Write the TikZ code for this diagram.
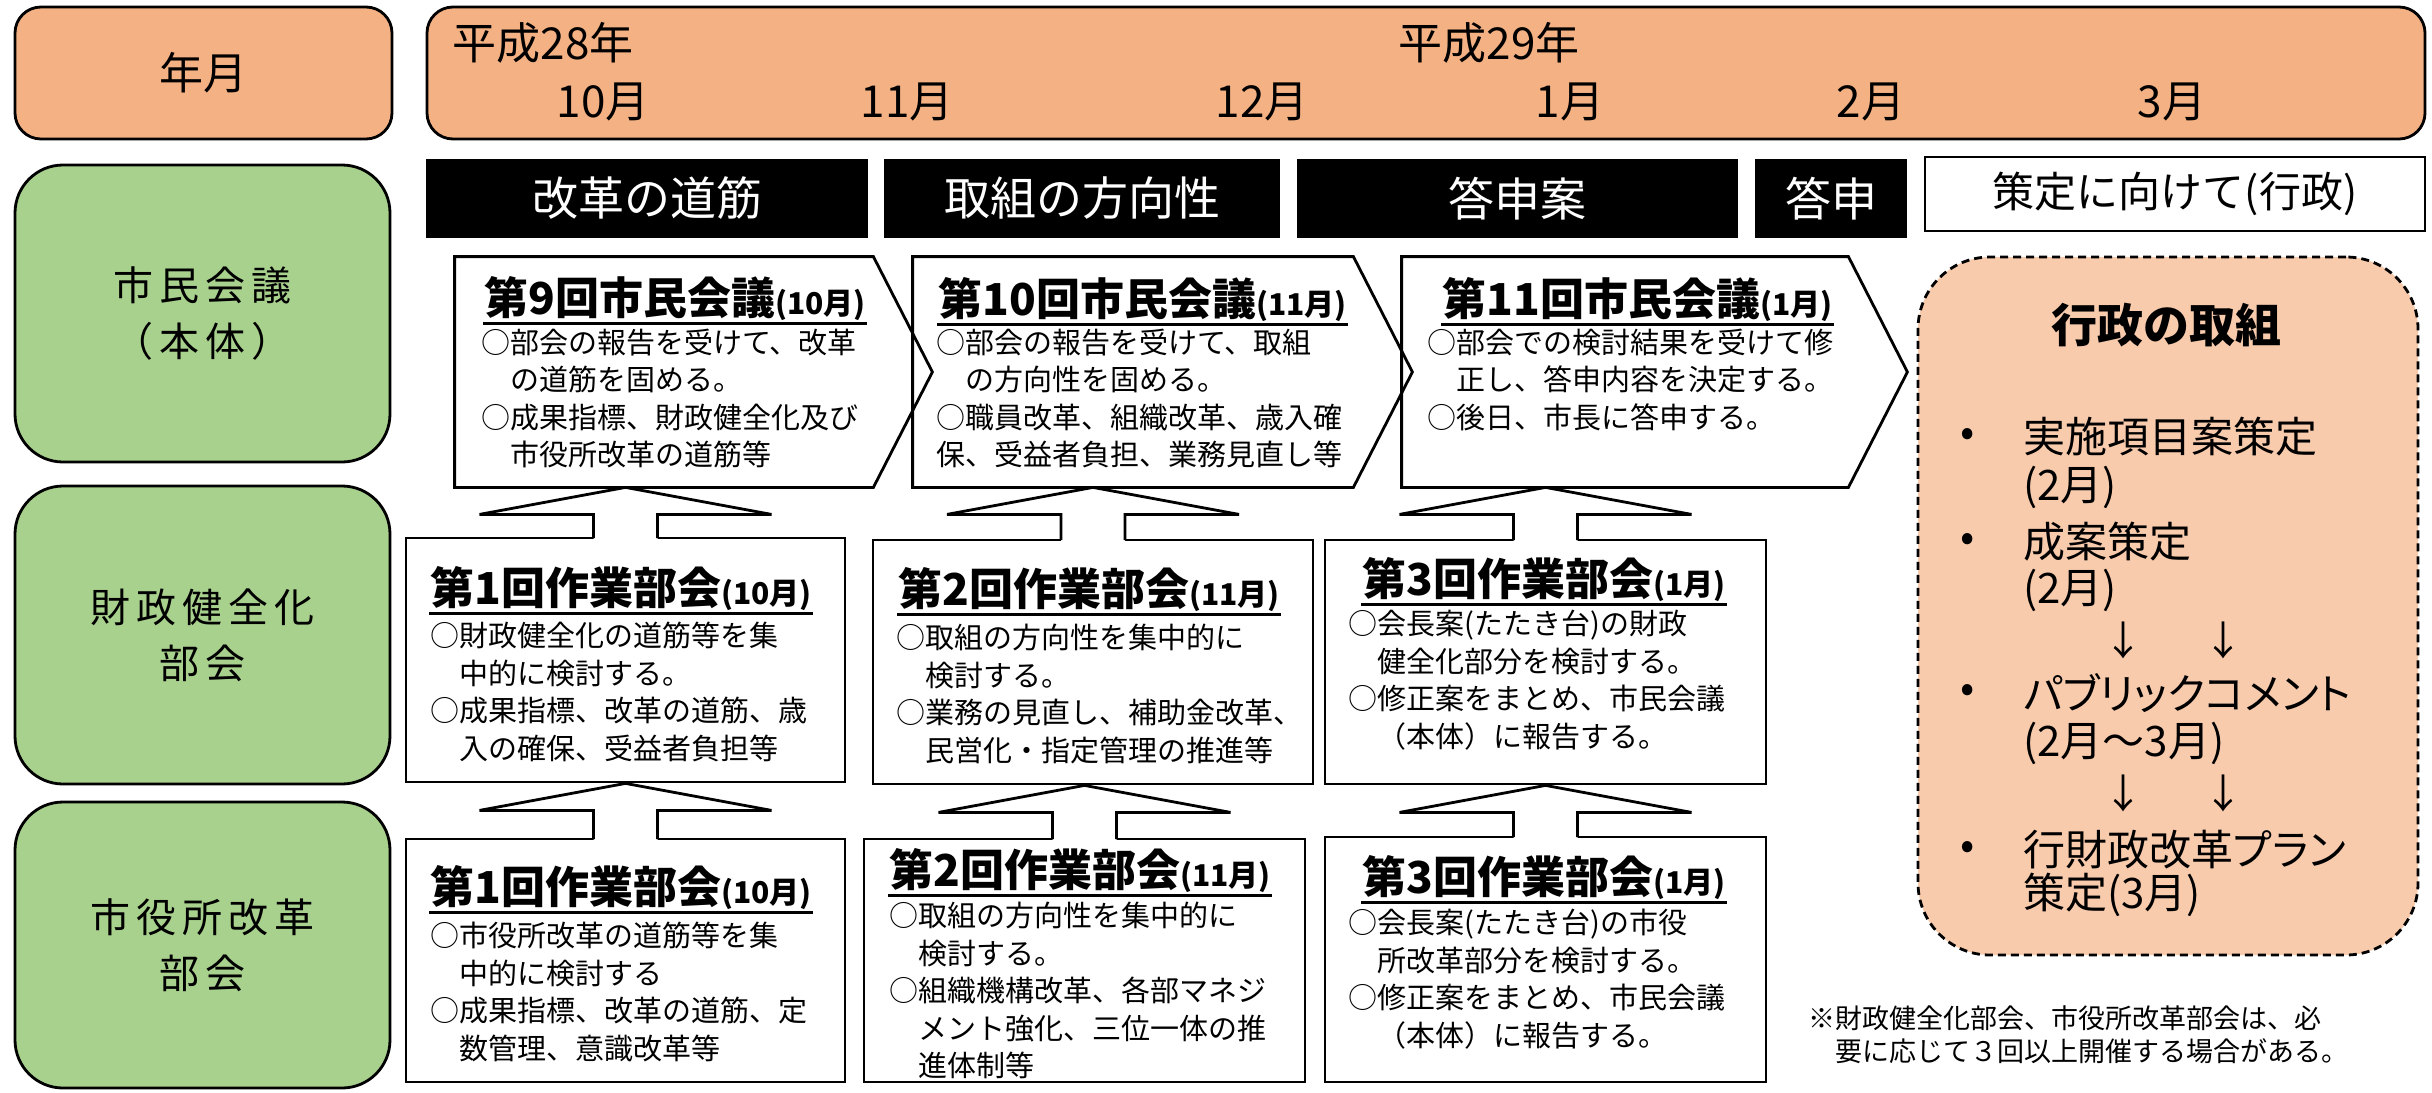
\documentclass[tikz,border=0pt]{standalone}
\usepackage{fontspec}
\setmainfont{Noto Sans CJK JP}
\newfontfamily\gfont{Noto Sans CJK JP}[LetterSpace=15]
\newfontfamily\pfont{Noto Sans CJK JP}[RawFeature=+palt]
\usetikzlibrary{calc}

\definecolor{peach}{HTML}{F4B183}
\definecolor{lpeach}{HTML}{F8CBAD}
\definecolor{leaf}{HTML}{A9D18E}

\newcommand\sml{\fontsize{30}{36}\selectfont}

% wide up-arrow from the top of box #1 to the bottom of box #2
\newcommand\blockarrow[2]{%
  \fill[white] ($(#1.north)+(-32,3)$) |- ($(#1.north |- #2.south)+(-146,27)$)
    -- (#1.north |- #2.south) -- ($(#1.north |- #2.south)+(146,27)$) -| ($(#1.north)+(32,3)$) -- cycle;
  \draw ($(#1.north)+(-32,1.4)$) |- ($(#1.north |- #2.south)+(-146,27)$)
    -- (#1.north |- #2.south) -- ($(#1.north |- #2.south)+(146,27)$) -| ($(#1.north)+(32,1.4)$);
}

\begin{document}
\begin{tikzpicture}[x=1pt,y=-1pt,line width=2.8pt,
  lbl/.style={draw,fill=leaf,rounded corners=48pt,inner sep=0pt,minimum width=375pt,
    align=center,font=\gfont\fontsize{40}{56}\selectfont},
  bar/.style={fill=black,text=white,inner sep=0pt,minimum height=79pt,
    font=\fontsize{46}{50}\selectfont},
  box/.style={draw,inner sep=0pt},
  ttl/.style={anchor=west,inner sep=0pt,font=\fontsize{44}{48}\selectfont\bfseries},
  body/.style={anchor=north west,align=left,inner sep=0pt,font=\fontsize{29}{37.5}\selectfont},
  item/.style={anchor=west,inner sep=0pt,font=\pfont\fontsize{42}{50}\selectfont}]
\useasboundingbox (0,0) rectangle (2432,1092);

% header
\node[draw,fill=peach,rounded corners=26pt,minimum width=377pt,minimum height=132pt,
  font=\fontsize{44}{50}\selectfont] (ym) at (203.5,73) {年月};
\node[draw,fill=peach,rounded corners=26pt,minimum width=1998pt,minimum height=132pt] (cal) at (1426,73) {};
\node[anchor=west,font=\fontsize{44}{50}\selectfont] (h28) at (448,43) {平成28年};
\node[anchor=west,font=\fontsize{44}{50}\selectfont] (h29) at (1394,43) {平成29年};
\foreach \x/\m in {603/10,907/11,1262/12,1570/1,1871/2,2172/3}
  \node[font=\fontsize{44}{50}\selectfont] (mo\m) at (\x,102) {\m 月};

% phase bars
\node[bar,minimum width=442pt] (k1) at (647,198.5) {改革の道筋};
\node[bar,minimum width=396pt] (k2) at (1082,198.5) {取組の方向性};
\node[bar,minimum width=441pt] (k3) at (1517.5,198.5) {答申案};
\node[bar,minimum width=152pt] (k4) at (1831,198.5) {答申};
\node[draw,inner sep=0pt,minimum width=500pt,minimum height=74pt,
  font=\fontsize{42}{48}\selectfont] (k5) at (2175,194) {策定に向けて(行政)};

% row labels
\node[lbl,minimum height=297pt] (r1) at (202.5,313.5) {市民会議\\（本体）};
\node[lbl,minimum height=298pt] (r2) at (202.5,635) {財政健全化\\部会};
\node[lbl,minimum height=286pt] (r3) at (202.5,945) {市役所改革\\部会};

% citizens' meetings
\node[inner sep=0pt,minimum width=416pt,minimum height=228pt] (m1) at (664,372) {};
\node[inner sep=0pt,minimum width=438pt,minimum height=228pt] (m2) at (1133,372) {};
\node[inner sep=0pt,minimum width=444pt,minimum height=228pt] (m3) at (1625,372) {};
\foreach \m in {m1,m2,m3}
  \draw (\m.north west) -- (\m.north east) -- ([xshift=59pt]\m.east) -- (\m.south east) -- (\m.south west) -- cycle;

\node[ttl] (t11) at (483,299) {第9回市民会議\sml(10月)};
\node[ttl] (t12) at (937,300) {第10回市民会議\sml(11月)};
\node[ttl] (t13) at (1441,300) {第11回市民会議\sml(1月)};
\node[body] (x11) at (480,327.5) {○部会の報告を受けて、改革\\　の道筋を固める。\\○成果指標、財政健全化及び\\　市役所改革の道筋等};
\node[body] (x12) at (935,327.5) {○部会の報告を受けて、取組\\　の方向性を固める。\\○職員改革、組織改革、歳入確\\保、受益者負担、業務見直し等};
\node[body] (x13) at (1426,327.5) {○部会での検討結果を受けて修\\　正し、答申内容を決定する。\\○後日、市長に答申する。};

% working groups
\node[box,minimum width=439pt,minimum height=244pt] (b21) at (625.5,660) {};
\node[box,minimum width=440pt,minimum height=244pt] (b22) at (1093,662) {};
\node[box,minimum width=441pt,minimum height=244pt] (b23) at (1545.5,662) {};
\node[box,minimum width=439pt,minimum height=243pt] (b31) at (625.5,960.5) {};
\node[box,minimum width=441pt,minimum height=243pt] (b32) at (1084.5,960.5) {};
\node[box,minimum width=441pt,minimum height=245pt] (b33) at (1545.5,959.5) {};

\node[ttl] (t21) at (429,589) {第1回作業部会\sml(10月)};
\node[ttl] (t22) at (897,590) {第2回作業部会\sml(11月)};
\node[ttl] (t23) at (1361,580) {第3回作業部会\sml(1月)};
\node[body] (x21) at (429,621) {○財政健全化の道筋等を集\\　中的に検討する。\\○成果指標、改革の道筋、歳\\　入の確保、受益者負担等};
\node[body] (x22) at (895,623) {○取組の方向性を集中的に\\　検討する。\\○業務の見直し、補助金改革、\\　民営化・指定管理の推進等};
\node[body] (x23) at (1347,609) {○会長案(たたき台)の財政\\　健全化部分を検討する。\\○修正案をまとめ、市民会議\\　（本体）に報告する。};

\node[ttl] (t31) at (429,888) {第1回作業部会\sml(10月)};
\node[ttl] (t32) at (888,871) {第2回作業部会\sml(11月)};
\node[ttl] (t33) at (1361,878) {第3回作業部会\sml(1月)};
\node[body] (x31) at (429,921) {○市役所改革の道筋等を集\\　中的に検討する\\○成果指標、改革の道筋、定\\　数管理、意識改革等};
\node[body] (x32) at (888,901) {○取組の方向性を集中的に\\　検討する。\\○組織機構改革、各部マネジ\\　メント強化、三位一体の推\\　進体制等};
\node[body] (x33) at (1347,908) {○会長案(たたき台)の市役\\　所改革部分を検討する。\\○修正案をまとめ、市民会議\\　（本体）に報告する。};

\foreach \t in {t11,t12,t13,t21,t22,t23,t31,t32,t33}
  \draw ([yshift=-1pt]\t.south west) -- ([yshift=-1pt]\t.south east);

\blockarrow{b21}{m1}
\blockarrow{b22}{m2}
\blockarrow{b23}{m3}
\blockarrow{b31}{b21}
\blockarrow{b32}{b22}
\blockarrow{b33}{b23}

% administration
\node[draw,dash pattern=on 8pt off 5pt,fill=lpeach,rounded corners=72pt,
  minimum width=500pt,minimum height=698pt] (gy) at (2168,606) {};
\node[font=\fontsize{46}{50}\selectfont\bfseries] (gyt) at (2166,325) {行政の取組};
\foreach \n/\yy/\txt in {1/437/実施項目案策定,2/487/(2月),3/542/成案策定,4/590/(2月),
    5/693/パブリックコメント,6/743/(2月～3月),7/850/行財政改革プラン,8/895/策定(3月)}
  \node[item] (g\n) at (2022,\yy) {\txt};
\foreach \yy in {437,542,693,850}
  \node[font=\fontsize{42}{50}\selectfont] (d\yy) at (1968,\yy) {•};
\foreach \yy in {640,793}
  \foreach \x in {2123,2223}
    \node[font=\fontsize{40}{50}\selectfont] (a\x\yy) at (\x,\yy) {↓};

\node[anchor=north west,align=left,inner sep=0pt,font=\fontsize{27}{33}\selectfont] (note) at (1807,1004)
  {※財政健全化部会、市役所改革部会は、必\\　要に応じて３回以上開催する場合がある。};
\end{tikzpicture}
\end{document}
